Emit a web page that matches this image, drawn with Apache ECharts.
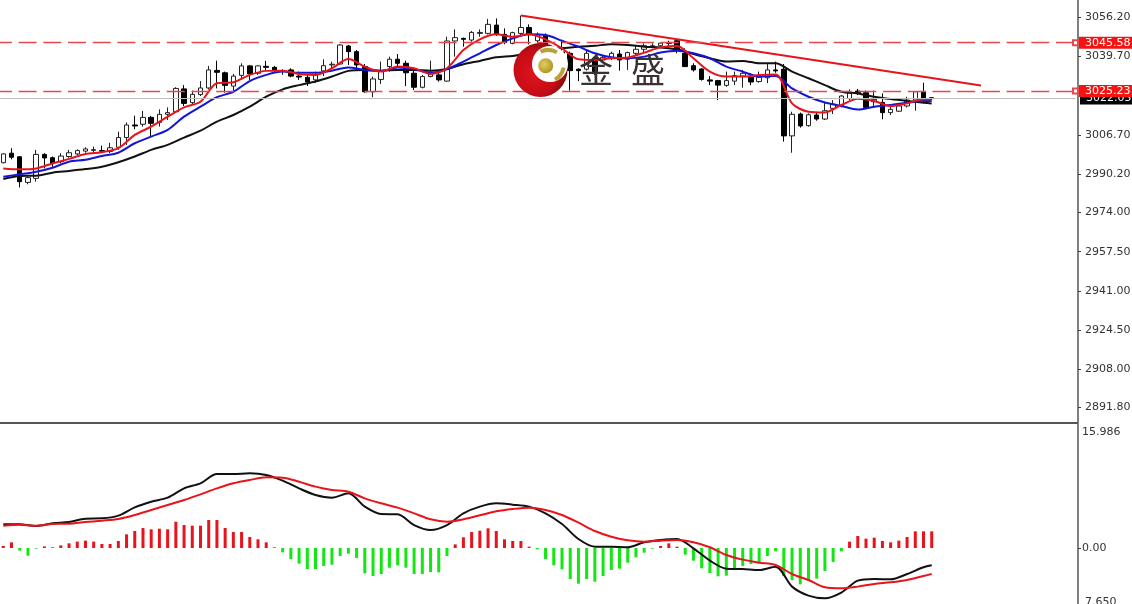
<!DOCTYPE html>
<html><head><meta charset="utf-8">
<script src="https://cdn.jsdelivr.net/npm/echarts@6/dist/echarts.min.js"></script>
<style>html,body{margin:0;padding:0;background:#fff}#c{width:1132px;height:604px}</style>
</head><body><div id="c"></div>
<script>
// [open, close, low, high]
const candles = [
[2995.0,2998.7,2994.7,2999.0],[2999.0,2997.3,2996.4,3001.1],[2997.5,2987.0,2984.6,2997.8],[2986.7,2988.7,2985.9,2989.1],
[2988.4,2998.5,2987.0,3000.4],[2998.5,2997.0,2992.6,2999.0],[2997.1,2994.7,2993.3,2997.6],[2995.4,2997.8,2994.7,2999.0],
[2997.6,2999.2,2997.1,3000.4],[2998.7,3000.1,2998.2,3000.6],[2999.9,3000.8,2999.2,3001.5],[3000.2,3000.5,2999.0,3001.8],
[3000.1,2999.8,2999.0,3002.2],[2999.7,3001.3,2999.0,3003.4],[3001.5,3005.6,3000.4,3008.1],[3005.6,3010.9,3002.5,3012.0],
[3010.9,3010.5,3009.1,3014.8],[3011.2,3014.1,3010.2,3016.8],[3014.1,3011.6,3005.6,3014.7],[3012.0,3015.4,3010.2,3017.5],
[3015.4,3016.1,3013.0,3018.3],[3016.5,3026.3,3016.1,3026.8],[3026.1,3020.0,3018.9,3027.7],[3020.3,3023.8,3019.3,3025.4],
[3023.7,3026.5,3023.1,3029.4],[3026.5,3034.1,3025.9,3035.8],[3033.9,3033.1,3026.3,3038.0],[3032.9,3027.6,3024.5,3033.4],
[3027.3,3031.5,3024.9,3032.4],[3031.8,3035.8,3029.9,3036.9],[3035.8,3032.4,3029.9,3036.2],[3032.7,3035.8,3032.0,3036.0],
[3035.6,3035.2,3034.1,3037.9],[3035.2,3034.1,3032.9,3035.8],[3033.5,3033.8,3032.0,3034.4],[3034.1,3031.5,3031.0,3034.8],
[3031.5,3031.1,3029.9,3033.4],[3031.0,3029.0,3027.3,3032.0],[3029.9,3032.0,3028.7,3033.4],[3033.7,3035.9,3031.5,3038.6],
[3036.2,3036.5,3034.8,3037.6],[3036.6,3044.6,3036.2,3045.0],[3044.2,3041.8,3036.2,3044.6],[3041.8,3036.2,3034.1,3042.5],
[3035.5,3024.9,3024.5,3036.6],[3024.9,3030.3,3022.6,3031.3],[3030.1,3033.8,3028.2,3037.6],[3035.5,3038.6,3033.4,3039.7],
[3038.6,3036.9,3035.5,3040.8],[3036.9,3032.9,3027.3,3038.0],[3032.7,3026.8,3025.6,3033.8],[3026.8,3031.3,3026.3,3032.0],
[3031.3,3032.4,3031.0,3038.0],[3032.0,3029.9,3029.2,3034.1],[3029.4,3046.3,3029.2,3048.1],[3046.3,3047.7,3039.7,3051.2],
[3047.4,3047.0,3043.9,3047.7],[3046.7,3049.9,3046.0,3050.5],[3049.5,3049.9,3048.1,3051.2],[3049.5,3053.3,3049.1,3055.6],
[3053.0,3049.1,3048.4,3055.8],[3049.1,3045.7,3044.9,3051.6],[3045.3,3049.8,3044.9,3050.2],[3049.5,3052.0,3048.8,3057.0],
[3052.0,3049.1,3044.9,3053.3],[3046.4,3049.1,3045.3,3049.9],[3048.7,3043.9,3041.8,3049.5],[3042.8,3041.8,3038.6,3043.2],
[3041.7,3041.1,3040.4,3046.0],[3041.1,3033.8,3025.4,3041.8],[3034.4,3033.8,3029.4,3034.8],[3034.4,3041.1,3033.8,3042.2],
[3039.0,3033.4,3032.0,3039.7],[3038.3,3039.4,3037.6,3040.4],[3039.0,3041.1,3038.3,3041.8],[3040.8,3038.3,3033.8,3042.5],
[3038.6,3041.4,3034.1,3041.8],[3041.1,3042.8,3040.4,3044.6],[3042.8,3044.3,3041.1,3045.3],[3043.9,3044.3,3043.2,3045.3],
[3044.3,3045.4,3043.9,3045.6],[3045.7,3045.3,3043.9,3046.4],[3046.4,3042.5,3041.1,3047.0],[3041.1,3035.5,3035.5,3043.2],
[3035.9,3034.1,3033.4,3036.9],[3034.5,3030.1,3029.6,3034.8],[3029.9,3029.4,3027.7,3031.5],[3029.6,3027.7,3021.4,3029.9],
[3027.6,3029.6,3027.0,3033.4],[3029.4,3031.7,3027.7,3033.4],[3031.5,3032.7,3026.6,3034.1],[3031.0,3029.0,3027.7,3032.7],
[3029.2,3031.0,3028.7,3033.4],[3030.8,3034.1,3028.5,3036.9],[3034.1,3033.7,3032.9,3037.6],[3034.4,3006.3,3003.9,3036.6],
[3006.3,3015.4,2999.2,3016.5],[3015.5,3010.5,3009.8,3016.1],[3010.6,3015.2,3010.2,3015.8],[3015.1,3013.4,3012.7,3016.1],
[3013.4,3016.9,3013.0,3020.7],[3017.9,3019.7,3015.5,3021.4],[3019.0,3023.1,3018.3,3023.5],[3022.0,3024.4,3021.4,3025.9],
[3025.2,3024.5,3023.5,3026.1],[3024.5,3018.3,3017.5,3025.4],[3020.7,3021.7,3018.9,3025.4],[3020.4,3016.1,3013.3,3024.2],
[3016.1,3017.5,3015.1,3018.9],[3016.7,3018.9,3016.4,3020.0],[3018.9,3021.4,3018.3,3022.8],[3021.4,3024.9,3016.9,3025.2],
[3024.9,3021.8,3021.4,3028.7],[3022.4,3022.0,3021.4,3022.4]
];
// moving averages and MACD lines, read at every second bar (plus the last bar)
const maRed = [2992.6,2992.2,2992.6,2994.7,2996.6,2998.7,2999.4,3001.1,3006.7,3010.2,3014.4,3018.3,3020.7,3028.5,3028.9,3032.0,3033.7,3033.8,3032.4,3032.0,3034.8,3038.7,
3035.5,3033.4,3035.5,3034.8,3032.4,3034.8,3042.5,3047.0,3049.1,3048.1,3049.1,3047.0,3043.2,3038.6,3038.3,3039.0,3039.3,3041.4,3043.6,3044.2,3039.0,3033.4,3031.3,3031.3,3032.0,3032.2,3020.0,3016.5,3016.2,3019.3,3022.0,3021.0,3018.9,3020.0,3021.7,3021.7];
const maBlue = [2989.1,2990.1,2991.2,2992.9,2995.4,2996.2,2997.8,2999.2,3003.2,3006.0,3008.8,3014.4,3018.6,3022.6,3024.9,3029.4,3032.0,3033.4,3032.9,3032.9,3033.8,3035.1,
3034.1,3033.7,3035.1,3034.4,3032.9,3034.4,3037.6,3041.1,3044.6,3047.4,3049.1,3048.8,3046.4,3043.9,3041.1,3039.4,3039.0,3039.7,3041.4,3042.2,3041.1,3039.0,3035.5,3033.4,3031.3,3031.5,3026.3,3022.8,3020.4,3018.9,3017.4,3018.6,3019.3,3020.3,3021.0,3021.0];
const maBlack = [2988.1,2989.4,2989.5,2990.8,2991.5,2992.3,2993.3,2995.2,2997.6,3000.4,3002.5,3005.6,3008.5,3012.3,3015.1,3018.6,3022.8,3025.9,3027.7,3029.2,3031.3,3033.7,
3034.1,3033.8,3034.1,3034.1,3033.8,3034.5,3036.5,3037.9,3039.4,3040.0,3041.1,3042.9,3043.2,3043.9,3044.3,3044.9,3044.6,3043.9,3043.6,3042.8,3040.8,3039.0,3037.6,3037.9,3036.9,3036.9,3033.4,3030.6,3027.7,3024.9,3024.2,3022.8,3021.8,3021.0,3020.3,3020.0];
const macdHist = [0.26,0.73,-0.34,-0.99,-0.09,0.21,0.09,0.34,0.60,0.82,0.95,0.82,0.52,0.52,0.90,1.76,2.19,2.58,2.41,2.49,2.41,3.39,2.96,2.88,2.88,3.61,3.61,2.58,2.06,2.06,1.42,1.12,0.73,0.09,
-0.56,-1.42,-2.02,-2.71,-2.71,-2.32,-2.15,-1.03,-0.73,-1.29,-3.27,-3.61,-3.35,-2.54,-2.23,-2.54,-3.35,-3.35,-3.09,-3.14,-1.03,0.47,1.38,2.06,2.23,2.54,2.19,1.12,0.90,0.90,0.17,
-0.17,-1.42,-2.23,-2.75,-4.00,-4.60,-4.00,-4.34,-3.61,-2.84,-2.66,-1.89,-1.20,-0.60,-0.09,0.26,0.60,0.17,-0.86,-1.63,-2.62,-3.22,-3.65,-3.57,-2.75,-2.32,-2.06,-1.98,-1.03,-0.43,
-3.61,-4.13,-4.68,-4.21,-3.95,-2.96,-1.80,-0.43,0.82,1.55,1.20,1.33,0.90,0.73,0.95,1.42,2.15,2.15,2.15];
const macdLine = [3.05,3.05,2.84,3.18,3.35,3.78,3.82,4.17,5.24,5.97,6.49,7.69,8.34,9.54,9.54,9.63,9.41,8.68,7.69,6.83,6.49,7.05,5.33,4.38,4.34,2.96,2.32,2.96,4.47,
5.33,5.76,5.59,5.33,4.47,3.09,1.16,0.17,0.17,0.09,0.73,1.03,1.16,-0.04,-1.63,-2.66,-2.71,-2.84,-2.41,-4.98,-6.14,-6.49,-5.76,-4.21,-4.00,-4.04,-3.35,-2.49,-2.23];
const signalLine = [2.88,3.01,2.88,3.09,3.14,3.35,3.52,3.74,4.25,4.90,5.54,6.19,6.92,7.69,8.34,8.77,9.11,9.07,8.55,7.91,7.48,7.26,6.40,5.76,5.20,4.47,3.70,3.39,3.70,
4.21,4.73,5.03,5.20,4.90,4.25,3.27,2.19,1.46,0.99,0.82,0.95,1.03,0.73,0.09,-0.90,-1.50,-1.89,-2.19,-3.35,-4.13,-5.07,-5.20,-4.98,-4.64,-4.43,-4.13,-3.61,-3.35];
const priceTicks = [3056.20,3039.70,3006.70,2990.20,2974.00,2957.50,2941.00,2924.50,2908.00,2891.80];
const redLevels = [3045.58,3025.23];
const lastPrice = 3022.05;
const trendFrom = [63,3057.0];
const trendTo = [119,3027.5];
const priceMin = 2885.3, priceMax = 3063.57;
const macdMin = -7.22, macdMax = 15.986;
const macdTick = [0];
const macdTopLabel = '15.986', macdBottomLabel = '7.650';
const logoText = ['金','盛'];

const slotCount = 131;
const categories = Array.from({length:slotCount},(_,i)=>String(i));
const lineIdx = maRed.map((_,k)=>Math.min(k*2,113));
const pts = a => a.map((v,k)=>[lineIdx[k],v]);
const FONT = '"DejaVu Sans"';
const RED='#e8141c',BLUE='#1414d8',BLACK='#111111',GREEN='#14e614';

const line=(name,data,color,xi)=>({name,type:'line',data:pts(data),xAxisIndex:xi,yAxisIndex:xi,showSymbol:false,symbol:'none',smooth:0.3,
  lineStyle:{color,width:2},itemStyle:{color},silent:true,z:3});

const chart = echarts.init(document.getElementById('c'),null,{renderer:'canvas'});
chart.setOption({
  animation:false,backgroundColor:'#ffffff',
  grid:[{left:-0.8,top:0,width:1076.3,height:423,containLabel:false,outerBoundsMode:'none'},{left:-0.8,top:424,width:1076.3,height:180,outerBoundsMode:'none'}],
  xAxis:[
    {type:'category',gridIndex:0,data:categories,boundaryGap:true,axisLine:{show:false},axisTick:{show:false},axisLabel:{show:false},splitLine:{show:false}},
    {type:'category',gridIndex:1,data:categories,boundaryGap:true,axisLine:{show:false},axisTick:{show:false},axisLabel:{show:false},splitLine:{show:false}}
  ],
  yAxis:[
    {type:'value',gridIndex:0,position:'right',offset:2.5,min:priceMin,max:priceMax,splitLine:{show:false},
     axisLine:{show:true,onZero:false,lineStyle:{color:'#555',width:1.5}},
     axisTick:{show:true,length:3,customValues:priceTicks,lineStyle:{color:'#444'}},
     axisLabel:{show:true,customValues:priceTicks,margin:7,padding:[3,0,0,0],color:'#333',fontFamily:FONT,fontSize:11,formatter:v=>v.toFixed(2)}},
    {type:'value',gridIndex:1,position:'right',offset:2.5,min:macdMin,max:macdMax,splitLine:{show:false},
     axisLine:{show:true,onZero:false,lineStyle:{color:'#555',width:1.5}},
     axisTick:{show:true,length:3,customValues:macdTick,lineStyle:{color:'#444'}},
     axisLabel:{show:true,customValues:macdTick,margin:4,padding:[3,0,0,0],color:'#333',fontFamily:FONT,fontSize:11,formatter:v=>v.toFixed(2)}}
  ],
  series:[
    {name:'price',type:'candlestick',data:candles,xAxisIndex:0,yAxisIndex:0,barWidth:5,silent:true,
     itemStyle:{color:'#ffffff',color0:'#000000',borderColor:'#222222',borderColor0:'#000000',borderWidth:1},
     markLine:{silent:true,animation:false,symbol:'none',precision:2,
       lineStyle:{color:'#bdbdbd',type:'solid',width:1},
       label:{show:true,position:'end',distance:4.5,formatter:()=>lastPrice.toFixed(2),color:'#fff',backgroundColor:'#000',padding:[1,3,0,6],fontFamily:FONT,fontSize:11},
       data:[{yAxis:lastPrice}]}},
    line('black',maBlack,BLACK,0),
    line('blue',maBlue,BLUE,0),
    line('red',maRed,RED,0),
    {name:'trend',type:'line',data:[trendFrom,trendTo],xAxisIndex:0,yAxisIndex:0,showSymbol:false,symbol:'none',silent:true,z:4,
     lineStyle:{color:RED,width:2},
     markLine:{silent:true,animation:false,symbol:['none','emptyRect'],symbolSize:5,precision:2,
       lineStyle:{color:'#e5484d',type:[18,6.7],dashOffset:5.3,width:1.3},
       itemStyle:{color:'#e5484d'},
       label:{show:true,position:'end',distance:3.5,formatter:p=>Number(p.value).toFixed(2),color:'#fff',backgroundColor:'#f41414',padding:[1,3,0,6],fontFamily:FONT,fontSize:11},
       data:redLevels.map(v=>({yAxis:v}))}},
    {name:'hist',type:'bar',data:macdHist,xAxisIndex:1,yAxisIndex:1,barWidth:3,silent:true,
     itemStyle:{color:p=>p.value>=0?RED:GREEN}},
    line('macd',macdLine,BLACK,1),
    line('signal',signalLine,RED,1)
  ],
  graphic:[
    {type:'line',silent:true,z:20,shape:{x1:0,y1:423,x2:1078,y2:423},style:{stroke:'#555',lineWidth:2}},
    {type:'text',silent:true,z:20,x:1082,y:432,style:{text:macdTopLabel,fill:'#333',font:'11px '+FONT,verticalAlign:'middle'}},
    {type:'text',silent:true,z:20,x:1085,y:602,style:{text:macdBottomLabel,fill:'#333',font:'11px '+FONT,verticalAlign:'middle'}},
    // watermark logo
    {type:'circle',silent:true,z:30,shape:{cx:540.5,cy:70,r:27},
     style:{fill:new echarts.graphic.RadialGradient(0.4,0.55,0.6,[{offset:0,color:'#e0141e'},{offset:0.7,color:'#c40c14'},{offset:1,color:'#7e0a10'}])}},
    {type:'circle',silent:true,z:31,shape:{cx:550,cy:64,r:18},style:{fill:'#ffffff'}},
    {type:'circle',silent:true,z:32,shape:{cx:545.7,cy:65.7,r:7.5},
     style:{fill:new echarts.graphic.RadialGradient(0.4,0.4,0.7,[{offset:0,color:'#e0cc60'},{offset:1,color:'#a8901c'}])}},
    {type:'arc',silent:true,z:32,shape:{cx:548,cy:68,r:18,startAngle:-2.0,endAngle:-1.05},style:{stroke:'#b9a23a',lineWidth:4,fill:'none'}},
    {type:'arc',silent:true,z:32,shape:{cx:546,cy:64,r:18,startAngle:0.2,endAngle:1.05},style:{stroke:'#b9a23a',lineWidth:4,fill:'none'}},
    {type:'text',silent:true,z:33,x:579,y:70,style:{text:logoText[0],fill:'#3a3232',font:'34px "Noto Sans CJK SC"',verticalAlign:'middle'}},
    {type:'text',silent:true,z:33,x:631,y:70,style:{text:logoText[1],fill:'#3a3232',font:'34px "Noto Sans CJK SC"',verticalAlign:'middle'}}
  ]
});
</script></body></html>
